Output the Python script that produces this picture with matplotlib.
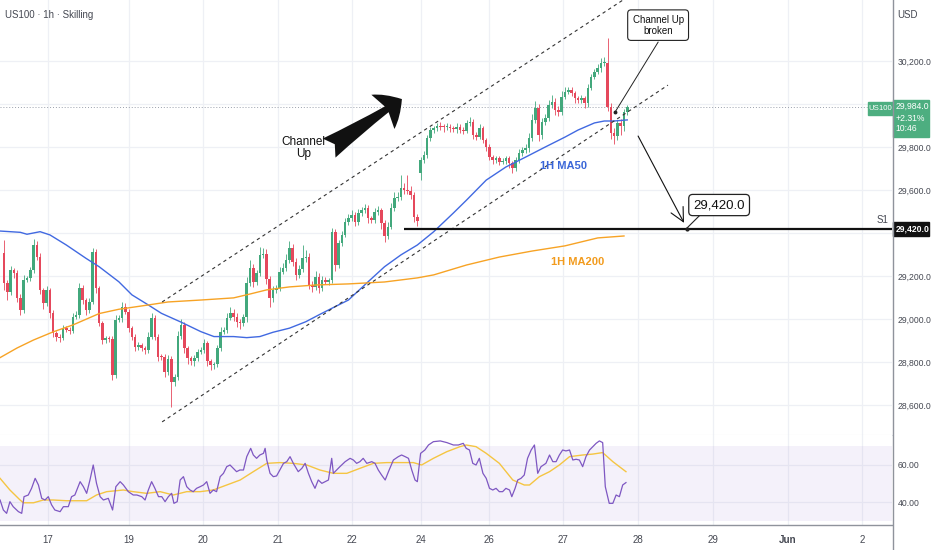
import matplotlib
matplotlib.use('Agg')
import matplotlib.pyplot as plt
import matplotlib.font_manager as fm
from matplotlib.patches import Rectangle, FancyArrowPatch
from matplotlib.lines import Line2D
from matplotlib.transforms import blended_transform_factory
import numpy as np

avail = {f.name for f in fm.fontManager.ttflist}
NARROW = 'Liberation Sans Narrow' if 'Liberation Sans Narrow' in avail else 'Liberation Sans'
plt.rcParams['font.family'] = [NARROW, 'DejaVu Sans']

# ---------------- data ----------------
first_open = 29309
gap_index = 127
gap_open = 29677
closes = [
    29166, 29127, 29228, 29212, 29096, 29042, 29181, 29189, 29228, 29344,
    29290, 29135, 29073, 29135, 29026, 28933, 28918, 28910, 28957, 28949,
    28945, 29011, 29019, 29143, 29088, 29042, 29081, 29310, 29143, 28980,
    28902, 28910, 28905, 28740, 28995, 29003, 29057, 29034, 28957, 28918,
    28871, 28879, 28864, 28856, 28918, 29003, 28918, 28825, 28822, 28755,
    28812, 28708, 28732, 28921, 28972, 28863, 28817, 28802, 28817, 28848,
    28856, 28887, 28802, 28786, 28790, 28863, 28941, 28949, 29003, 29026,
    29011, 28988, 28983, 29008, 29166, 29236, 29174, 29212, 29298, 29302,
    29184, 29096, 29135, 29143, 29220, 29236, 29274, 29329, 29267, 29205,
    29231, 29282, 29290, 29158, 29150, 29197, 29143, 29181, 29174, 29180,
    29405, 29251, 29352, 29391, 29453, 29468, 29484, 29453, 29491, 29507,
    29515, 29468, 29460, 29499, 29507, 29445, 29386, 29430, 29515, 29561,
    29569, 29608, 29600, 29597, 29577, 29476, 29457, 29740, 29763, 29840,
    29879, 29887, 29898, 29895, 29891, 29895, 29887, 29882, 29895, 29879,
    29876, 29910, 29918, 29856, 29848, 29887, 29832, 29801, 29755, 29739,
    29747, 29732, 29736, 29747, 29724, 29701, 29739, 29770, 29786, 29794,
    29840, 29925, 29980, 29856, 29918, 29933, 29995, 30011, 29972, 29964,
    30034, 30057, 30065, 30050, 30026, 30019, 30026, 30003, 30073, 30127,
    30150, 30166, 30189, 30191, 29986, 29865, 29851, 29912, 29898, 29963,
    29984]
wick_up = [
    60, 15, 20, 10, 15, 20, 25, 10, 15, 30,
    20, 15, 10, 20, 10, 15, 10, 12, 15, 10,
    12, 15, 20, 25, 15, 10, 15, 20, 15, 10,
    10, 12, 10, 15, 25, 15, 20, 15, 10, 12,
    10, 15, 10, 12, 20, 25, 15, 10, 12, 15,
    20, 15, 10, 25, 30, 15, 10, 12, 15, 10,
    15, 20, 10, 12, 10, 15, 20, 15, 25, 30,
    20, 15, 10, 15, 30, 40, 20, 15, 35, 30,
    25, 15, 20, 15, 20, 25, 30, 35, 20, 15,
    20, 60, 30, 15, 20, 25, 15, 20, 15, 10,
    20, 15, 15, 20, 15, 20, 25, 15, 20, 15,
    20, 15, 10, 15, 20, 10, 15, 20, 25, 30,
    20, 60, 25, 70, 20, 15, 10, 15, 20, 15,
    15, 10, 15, 20, 10, 15, 12, 10, 15, 10,
    12, 15, 20, 10, 15, 20, 12, 10, 15, 10,
    12, 10, 15, 10, 12, 10, 15, 20, 15, 20,
    25, 30, 35, 20, 15, 20, 25, 30, 15, 20,
    25, 20, 15, 15, 12, 10, 15, 10, 20, 15,
    15, 20, 25, 30, 116, 20, 25, 15, 20, 15,
    10]
wick_dn = [
    30, 40, 15, 20, 15, 25, 15, 10, 12, 15,
    15, 20, 25, 15, 20, 15, 20, 15, 10, 12,
    15, 10, 12, 15, 20, 25, 15, 12, 20, 15,
    20, 15, 12, 25, 15, 10, 15, 12, 20, 15,
    20, 15, 12, 20, 15, 10, 15, 20, 15, 25,
    15, 120, 20, 15, 12, 20, 25, 15, 20, 15,
    12, 15, 20, 25, 20, 15, 10, 12, 15, 10,
    20, 25, 30, 15, 20, 15, 25, 15, 12, 15,
    20, 40, 15, 12, 15, 10, 15, 12, 20, 25,
    15, 12, 15, 20, 25, 15, 20, 15, 10, 15,
    15, 30, 15, 12, 10, 15, 12, 20, 15, 10,
    12, 20, 15, 12, 15, 25, 30, 15, 12, 15,
    10, 15, 20, 15, 20, 25, 25, 30, 15, 12,
    10, 15, 12, 15, 20, 12, 15, 10, 15, 12,
    15, 10, 12, 20, 15, 12, 15, 20, 15, 20,
    12, 15, 10, 15, 20, 20, 12, 15, 10, 12,
    15, 12, 15, 30, 20, 15, 12, 15, 25, 20,
    15, 12, 10, 15, 20, 15, 12, 20, 15, 10,
    12, 10, 15, 12, 20, 30, 37, 20, 40, 25,
    15]

ma50_x = [-1.2, 5, 7, 11, 14, 19, 25, 29, 35, 39, 44, 48, 54, 60, 64, 70, 74, 78,
          82, 87, 92, 96, 100, 105, 111, 116, 121, 126, 131, 137, 141, 147, 153,
          159, 165, 171, 175, 180, 183, 186, 190]
ma50_vals = [29409, 29403, 29394, 29406, 29391, 29344, 29282, 29243, 29173, 29112,
             29065, 29026, 28985, 28941, 28918, 28918, 28913, 28918, 28938, 28957,
             28987, 29019, 29050, 29088, 29173, 29243, 29298, 29344, 29406, 29493,
             29553, 29646, 29707, 29753, 29800, 29846, 29879, 29912, 29921, 29921,
             29926]
ma200_x = [-1.2, 4, 9, 15, 21, 29, 35, 44, 50, 60, 70, 75, 80, 87, 95, 105, 116,
           126, 131, 141, 151, 161, 171, 181, 189]
ma200_vals = [28820, 28865, 28902, 28940, 28972, 29025, 29045, 29065, 29079, 29088,
              29098, 29116, 29135, 29149, 29158, 29163, 29172, 29191, 29205, 29251,
              29288, 29316, 29340, 29377, 29386]

rsi_x = [-1.2, -0.2, 0.8, 1.8, 2.8, 4.4, 5.4, 6.1, 7.4, 8.4, 9.5, 10.5, 11.5, 12.5,
         13.5, 14.5, 15.5, 17.1, 18.1, 19.6, 20.6, 21.6, 23.2, 24.2, 25.2, 26.2,
         27.2, 28.2, 29.3, 30.3, 31.8, 33.1, 34.1, 35.4, 36.4, 37.9, 39.4, 40.5,
         42.0, 43.0, 44.0, 45.0, 46.0, 47.1, 48.1, 49.1, 50.1, 51.1, 51.8, 52.8,
         53.7, 54.7, 55.7, 56.7, 57.7, 58.7, 59.8, 60.8, 61.8, 62.8, 63.8, 64.8,
         65.9, 66.9, 67.9, 68.9, 69.9, 70.9, 71.9, 73.0, 74.0, 75.2, 76.0, 77.0,
         78.0, 79.1, 79.6, 80.1, 81.1, 82.1, 83.1, 84.1, 85.2, 86.2, 87.2, 88.2,
         89.7, 90.8, 91.8, 92.8, 93.8, 94.8, 95.8, 96.9, 97.9, 98.9, 99.9, 100.4,
         101.4, 102.4, 104.0, 105.5, 106.5, 107.5, 108.5, 109.5, 110.6, 112.1,
         113.1, 114.1, 115.1, 116.2, 117.2, 118.7, 120.2, 121.2, 122.3, 123.3,
         124.3, 125.3, 126.0, 127.0, 128.3, 129.4, 130.9, 133.0, 135.0, 137.0,
         138.5, 140.0, 140.9, 141.9, 142.9, 143.9, 144.9, 146.0, 147.0, 148.0,
         149.0, 150.0, 151.0, 152.0, 153.0, 154.1, 154.8, 155.8, 156.6, 157.6,
         158.6, 159.6, 160.7, 161.7, 162.7, 163.7, 165.2, 166.3, 167.3, 168.3,
         169.3, 170.3, 171.3, 172.4, 173.4, 174.4, 175.4, 176.4, 177.4, 178.5,
         179.5, 180.5, 181.5, 182.5, 183.3, 184.5, 185.6, 186.6, 187.6, 188.6,
         189.6]
rsi_vals = [41.1, 35.7, 33.9, 40.2, 37.5, 34.8, 33.9, 42.9, 43.8, 47.4, 52.8, 49.2,
            42.0, 41.1, 42.9, 38.5, 35.7, 34.8, 37.5, 37.5, 42.9, 43.8, 51.0, 48.3,
            44.7, 51.9, 60.0, 50.1, 42.9, 41.1, 42.0, 35.7, 48.3, 51.0, 49.2, 45.6,
            43.8, 43.8, 42.9, 41.1, 46.5, 51.0, 47.4, 42.9, 42.9, 40.2, 42.9, 44.7,
            39.3, 40.2, 51.9, 53.7, 48.3, 46.5, 45.6, 47.4, 48.3, 49.2, 51.0, 44.7,
            46.5, 45.6, 53.7, 55.5, 59.1, 60.0, 58.2, 56.4, 57.3, 57.3, 64.5, 69.0,
            65.4, 63.6, 65.4, 66.3, 69.0, 62.7, 55.5, 53.7, 54.1, 57.3, 60.9, 61.8,
            64.5, 60.9, 56.4, 58.2, 60.9, 55.5, 51.0, 47.4, 51.9, 50.1, 51.0, 51.9,
            63.6, 55.5, 57.3, 59.1, 61.8, 63.6, 62.7, 60.9, 61.8, 63.6, 60.9, 61.8,
            60.9, 57.3, 54.6, 51.9, 56.4, 62.7, 64.5, 65.4, 64.5, 63.6, 57.3, 51.9,
            51.0, 66.3, 68.1, 70.8, 72.6, 73.0, 72.1, 70.8, 70.8, 71.7, 69.0, 68.1,
            60.9, 60.0, 63.6, 55.5, 52.8, 47.4, 46.5, 47.4, 45.6, 45.6, 47.4, 46.5,
            42.9, 47.4, 51.9, 52.8, 54.6, 63.6, 68.1, 70.8, 55.5, 59.1, 60.9, 65.4,
            61.8, 61.8, 65.4, 68.1, 67.6, 68.1, 62.7, 63.1, 62.7, 59.1, 64.5, 68.1,
            69.9, 71.7, 73.0, 72.1, 48.3, 39.3, 39.3, 43.8, 42.9, 49.2, 50.5]
rsi_ma_x = [-1.2, 1.8, 4.9, 5.9, 9.0, 12.0, 15.0, 19.1, 25.2, 28.2, 31.3, 36.4, 39.4,
            43.5, 47.6, 51.6, 55.7, 59.8, 63.8, 67.9, 72.0, 76.0, 80.1, 84.1, 88.2,
            92.3, 96.3, 100.4, 104.5, 108.5, 112.6, 116.7, 120.7, 124.8, 127.3,
            130.9, 135.0, 139.0, 140.9, 143.9, 147.0, 151.0, 155.1, 158.6, 160.2,
            163.2, 166.3, 169.3, 172.4, 176.4, 179.5, 182.5, 185.6, 189.6]
rsi_ma_vals = [52.8, 46.5, 41.1, 39.6, 39.6, 41.1, 41.1, 40.7, 40.7, 43.8, 45.6, 46.5,
               45.6, 44.7, 45.6, 43.8, 45.6, 45.6, 46.5, 49.2, 51.9, 56.4, 60.9, 61.3,
               60.9, 60.0, 57.3, 55.5, 55.5, 58.2, 60.9, 61.3, 61.3, 61.3, 60.0, 63.6,
               67.2, 69.9, 70.8, 69.9, 66.3, 60.9, 51.9, 49.2, 49.2, 53.7, 56.4, 60.0,
               64.5, 65.4, 65.9, 66.7, 61.8, 56.4]

channel_upper = ([48.2, 188.7], [29079, 30484])
channel_lower = ([48.2, 202.4], [28521, 30088])
support_level = 29420
support_start = 122

price_ticks = [28600, 28800, 29000, 29200, 29400, 29600, 29800, 30000, 30200]
hidden_price_ticks = [29400, 30000]   # covered by the label boxes in the chart
day_ticks = [13.4, 38.1, 60.7, 83.5, 106.1, 127.1, 147.9, 170.4, 193.3, 216.2, 239.0, 261.6]
day_labels = ['17', '19', '20', '21', '22', '24', '26', '27', '28', '29', 'Jun', '2']
rsi_ticks = [40, 60]
change_text = '+2.31%'
time_text = '10:46'

# ---------------- styles ----------------
UP = '#42a87c'
DN = '#e5485c'
GRID = '#eef0f5'
TXT = '#454852'
W, H = 932, 550
XL = (-1.22, 270.7)
LBL = 6.2

fig = plt.figure(figsize=(W / 100, H / 100), dpi=100)
fig.patch.set_facecolor('white')
ax = fig.add_axes([0, 115 / H, 892 / W, 435 / H])
rs = fig.add_axes([0, 25 / H, 892 / W, 90 / H], sharex=ax)

# ---------------- main panel ----------------
o = np.array([first_open] + closes[:-1], float)
o[gap_index] = gap_open
c = np.array(closes, float)
idx = np.arange(len(c))
hi = np.maximum(o, c) + np.array(wick_up)
lo = np.minimum(o, c) - np.array(wick_dn)
cols = np.where(c >= o, UP, DN)
ax.vlines(idx, lo, hi, colors=cols, lw=0.6, zorder=3)
ax.bar(idx, np.maximum(np.abs(c - o), 5), bottom=np.minimum(o, c), width=0.78,
       color=cols, lw=0, zorder=4)

ax.plot(ma50_x, ma50_vals, color='#4169e1', lw=1.0, zorder=5)
ax.plot(ma200_x, ma200_vals, color='#f7a325', lw=1.0, zorder=5)

ax.plot(*channel_upper, color='#333333', lw=0.8, ls=(0, (3, 3)), zorder=6)
ax.plot(*channel_lower, color='#333333', lw=0.8, ls=(0, (3, 3)), zorder=6)

ax.hlines(support_level, support_start, XL[1], color='#111111', lw=1.6, zorder=6)
ax.axhline(closes[-1], color='#9aa0ab', lw=0.7, ls=(0, (1, 2)), zorder=2)

ax.set_xlim(*XL)
ax.set_ylim(28460, 30484)
ax.set_yticks(price_ticks)
ax.set_yticklabels(['' if p in hidden_price_ticks else f'{p:,.1f}' for p in price_ticks])
ax.yaxis.tick_right()
ax.tick_params(axis='y', length=0, pad=4, labelsize=LBL, labelcolor=TXT)
ax.tick_params(axis='x', length=0, labelbottom=False)
ax.set_xticks(day_ticks)
ax.grid(True, color=GRID, lw=0.9)
ax.set_axisbelow(True)
for s in ['top', 'left', 'right']:
    ax.spines[s].set_visible(False)
ax.spines['bottom'].set_color('#dfe2e8')
ax.spines['bottom'].set_linewidth(0.8)

# annotations
ax.text(91.2, 29795, 'Channel\nUp', ha='center', va='center', fontsize=8.5,
        color='#111111', linespacing=1.05, zorder=8)
ax.add_patch(FancyArrowPatch((99.1, 29795), (121.3, 30023),
                             arrowstyle='fancy,head_length=0.75,head_width=1.35,tail_width=0.75',
                             mutation_scale=22, color='#111111', lw=0, zorder=8,
                             shrinkA=0, shrinkB=0))
ax.text(199.4, 30367, 'Channel Up\nbroken', ha='center', va='center', fontsize=7,
        color='#111111', linespacing=1.1, zorder=9,
        bbox=dict(boxstyle='round,pad=0.5,rounding_size=0.35', fc='white',
                  ec='#222222', lw=0.8))
ax.plot([199.4, 186.3], [30288, 29963], color='#222222', lw=0.7, zorder=8)
ax.plot([186.3], [29963], 'o', color='#222222', ms=1.8, zorder=8)

ax.text(170.7, 29712, '1H MA50', ha='center', va='center', fontsize=8,
        color='#3a66d8', fontweight='bold', zorder=8)
ax.text(175, 29265, '1H MA200', ha='center', va='center', fontsize=8,
        color='#f29b1d', fontweight='bold', zorder=8)

ax.annotate('', xy=(207.3, 29447), xytext=(193.3, 29851),
            arrowprops=dict(arrowstyle='->,head_length=0.7,head_width=0.35',
                            color='#111111', lw=0.8, shrinkA=0, shrinkB=0,
                            mutation_scale=14), zorder=8)
ax.text(218, 29530, f'{support_level:,.1f}', ha='center', va='center', fontsize=9.5,
        color='#111111', zorder=9,
        bbox=dict(boxstyle='round,pad=0.35,rounding_size=0.3', fc='white',
                  ec='#222222', lw=0.9))
ax.plot([211.9, 208.2], [29479, 29423], color='#222222', lw=0.8, zorder=8)
ax.plot([208.2], [support_level], 'o', color='#222222', ms=2, zorder=8)
ax.text(267.7, 29460, 'S1', ha='center', va='center', fontsize=7, color=TXT, zorder=8)

# right scale labels (boxes)
tr = blended_transform_factory(ax.transAxes, ax.transData)
last = closes[-1]
ax.add_patch(Rectangle((1.001, last - 138), 36 / 892, 172, transform=tr,
                       clip_on=False, color='#4dae80', zorder=20))
ax.add_patch(Rectangle((868 / 892, last - 35), 25 / 892, 60, transform=tr,
                       clip_on=False, color='#4dae80', zorder=20))
ax.text(880.5 / 892, last - 5, 'US100', transform=tr, ha='center', va='center',
        fontsize=5.6, color='white', zorder=21, clip_on=False)
ax.text(1.004, last + 5, f'{last:,.1f}', transform=tr, ha='left', va='center',
        fontsize=LBL, color='white', zorder=21, clip_on=False)
ax.text(1.004, last - 50, change_text, transform=tr, ha='left', va='center',
        fontsize=LBL, color='white', zorder=21, clip_on=False)
ax.text(1.004, last - 100, time_text, transform=tr, ha='left', va='center',
        fontsize=LBL, color='white', zorder=21, clip_on=False)
ax.add_patch(Rectangle((1.001, support_level - 33), 36 / 892, 66, transform=tr,
                       clip_on=False, color='#111111', zorder=20))
ax.text(1.004, support_level, f'{support_level:,.1f}', transform=tr, ha='left',
        va='center', fontsize=LBL, color='white', fontweight='bold', zorder=21,
        clip_on=False)

# ---------------- RSI panel ----------------
rs.axhspan(30, 70, color='#7e57c2', alpha=0.08, lw=0)
rs.plot(rsi_x, rsi_vals, color='#7e57c2', lw=0.9, zorder=4)
rs.plot(rsi_ma_x, rsi_ma_vals, color='#f5c542', lw=1.0, zorder=3)
rs.set_ylim(27.6, 76.2)
rs.set_xlim(*XL)
rs.set_yticks(rsi_ticks)
rs.set_yticklabels([f'{v:.2f}' for v in rsi_ticks])
rs.yaxis.tick_right()
rs.tick_params(axis='y', length=0, pad=4, labelsize=LBL, labelcolor=TXT)
rs.set_xticks(day_ticks)
rs.set_xticklabels(day_labels)
rs.tick_params(axis='x', length=0, pad=7, labelsize=7, labelcolor=TXT)
for lab in rs.get_xticklabels():
    if lab.get_text() == 'Jun':
        lab.set_fontweight('bold')
rs.grid(True, color=GRID, lw=0.9)
rs.set_axisbelow(True)
for s in ['top', 'left', 'right']:
    rs.spines[s].set_visible(False)
rs.spines['bottom'].set_color('#8f939c')
rs.spines['bottom'].set_linewidth(1.0)

# right scale separator
fig.add_artist(Line2D([893 / W, 893 / W], [0, 1], transform=fig.transFigure,
                      color='#8f939c', lw=1.0))

fig.text(5 / W, 1 - 15 / H, 'US100 · 1h · Skilling', fontsize=7, color=TXT,
         va='center', ha='left')
fig.text(907 / W, 1 - 15 / H, 'USD', fontsize=7, color=TXT, va='center', ha='center')

fig.savefig('out.png', dpi=100, facecolor='white')
